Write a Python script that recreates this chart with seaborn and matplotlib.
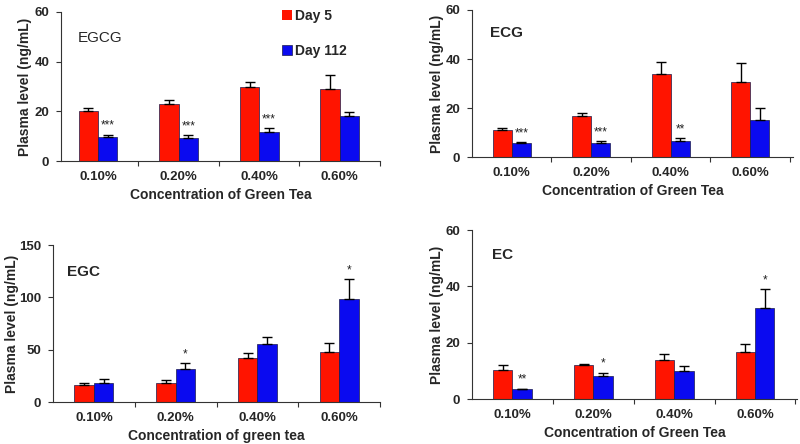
import matplotlib
matplotlib.use("Agg")
import matplotlib.pyplot as plt
from matplotlib.patches import Patch
import seaborn as sns
import pandas as pd

sns.set_theme(style="white")
plt.rcParams['font.family'] = ['Liberation Sans', 'DejaVu Sans']

concentrations = ["0.10%", "0.20%", "0.40%", "0.60%"]
days = ["Day 5", "Day 112"]

egcg_day5 = [20.0, 23.0, 29.8, 29.0]
egcg_day5_err = [1.2, 1.5, 1.9, 5.7]
egcg_day112 = [9.6, 9.1, 11.5, 18.2]
egcg_day112_err = [1.0, 1.3, 1.9, 1.6]
egcg_marks = ["***", "***", "***", ""]

ecg_day5 = [11.0, 16.9, 33.9, 30.5]
ecg_day5_err = [0.7, 0.9, 4.9, 8.0]
ecg_day112 = [5.6, 5.6, 6.7, 15.1]
ecg_day112_err = [0.4, 0.9, 0.9, 5.0]
ecg_marks = ["***", "***", "**", ""]

egc_day5 = [16.0, 18.6, 41.9, 47.3]
egc_day5_err = [2.2, 2.2, 4.5, 8.7]
egc_day112 = [17.9, 32.0, 55.0, 98.2]
egc_day112_err = [4.2, 4.8, 7.4, 19.2]
egc_marks = ["", "*", "", "*"]

ec_day5 = [10.3, 12.0, 13.9, 16.6]
ec_day5_err = [1.6, 0.6, 1.9, 3.0]
ec_day112 = [3.4, 8.2, 9.8, 32.4]
ec_day112_err = [0.3, 1.2, 1.9, 6.5]
ec_marks = ["**", "*", "", "*"]

RED = "#ff1400"
BLUE = "#0a0af0"
W, H = 800, 444


def px_axes(fig, left, right, top, bottom):
    return fig.add_axes([left / W, 1 - bottom / H, (right - left) / W, (bottom - top) / H])


def panel(ax, d5, d5e, d112, d112e, marks, ymax, ystep, xlabel, xlim, ylab_x):
    df = pd.DataFrame({
        "conc": concentrations * 2,
        "day": [days[0]] * 4 + [days[1]] * 4,
        "value": list(d5) + list(d112),
    })
    sns.barplot(data=df, x="conc", y="value", hue="day", order=concentrations,
                hue_order=days, palette={days[0]: RED, days[1]: BLUE},
                width=0.48, errorbar=None, edgecolor="#1a1a4a", linewidth=0.5,
                legend=False, ax=ax, saturation=1)
    for cont, vals, errs in zip(ax.containers, [d5, d112], [d5e, d112e]):
        xs = [b.get_x() + b.get_width() / 2 for b in cont]
        ax.errorbar(xs, vals, yerr=[[0] * len(errs), errs], fmt="none",
                    ecolor="black", elinewidth=1.0, capsize=3.5, capthick=1.0, zorder=3)
    bcont = ax.containers[1]
    for b, v, e, m in zip(bcont, d112, d112e, marks):
        if m:
            ax.annotate(m, (b.get_x() + b.get_width() / 2, v + e), xytext=(0, 2),
                        textcoords="offset points", ha="center", va="bottom",
                        fontsize=8.5, color="#222222")
    ax.set_ylim(0, ymax)
    ax.set_yticks(range(0, ymax + 1, ystep))
    ax.set_xlim(*xlim)
    ax.set_xticks(range(4))
    ax.set_xticklabels(concentrations)
    ax.set_xticks([0.5, 1.5, 2.5, 3.5], minor=True)
    ax.tick_params(axis="x", which="major", length=0, pad=7, labelsize=9.5)
    ax.tick_params(axis="x", which="minor", length=3.5, width=0.8, direction="out",
                   color="#333333", bottom=True)
    ax.tick_params(axis="y", which="major", length=3.5, width=0.8, direction="out",
                   color="#333333", left=True, pad=5, labelsize=9.5)
    for lab in ax.get_xticklabels() + ax.get_yticklabels():
        lab.set_fontweight("bold")
    ax.set_xlabel(xlabel, fontsize=10, fontweight="bold", labelpad=4)
    ax.set_ylabel("Plasma level (ng/mL)", fontsize=10, fontweight="bold")
    ax.yaxis.set_label_coords(ylab_x, 0.5)
    sns.despine(ax=ax)
    for s in ("left", "bottom"):
        ax.spines[s].set_color("#333333")
        ax.spines[s].set_linewidth(0.8)
    ax.set_facecolor("white")


fig = plt.figure(figsize=(8, 4.44), dpi=100)
fig.patch.set_facecolor("white")

ax1 = px_axes(fig, 61, 380, 12, 161)
panel(ax1, egcg_day5, egcg_day5_err, egcg_day112, egcg_day112_err, egcg_marks,
      60, 20, "Concentration of Green Tea", (-0.46, 3.5), -0.091)
ax2 = px_axes(fig, 472, 793, 10, 157)
panel(ax2, ecg_day5, ecg_day5_err, ecg_day112, ecg_day112_err, ecg_marks,
      60, 20, "Concentration of Green Tea", (-0.5, 3.54), -0.087)
ax3 = px_axes(fig, 53, 380, 245, 402)
panel(ax3, egc_day5, egc_day5_err, egc_day112, egc_day112_err, egc_marks,
      150, 50, "Concentration of green tea", (-0.5, 3.5), -0.104)
ax4 = px_axes(fig, 472, 797, 230, 399)
panel(ax4, ec_day5, ec_day5_err, ec_day112, ec_day112_err, ec_marks,
      60, 20, "Concentration of Green Tea", (-0.5, 3.52), -0.086)

fig.text(78 / W, 1 - 38 / H, "EGCG", fontsize=11, va="center", ha="left")
fig.text(490 / W, 1 - 33 / H, "ECG", fontsize=11, fontweight="bold", va="center", ha="left")
fig.text(67 / W, 1 - 272 / H, "EGC", fontsize=11, fontweight="bold", va="center", ha="left")
fig.text(492 / W, 1 - 255 / H, "EC", fontsize=11, fontweight="bold", va="center", ha="left")

handles = [Patch(facecolor=RED, edgecolor="none"), Patch(facecolor=BLUE, edgecolor="#1a1a4a", linewidth=0.5)]
ax1.legend(handles, days, loc="upper left", bbox_to_anchor=(282 / W, 1 - 9 / H),
           bbox_transform=fig.transFigure, frameon=False, handlelength=0.7,
           handleheight=0.7, handletextpad=0.25, labelspacing=1.5, borderaxespad=0,
           borderpad=0, prop={"weight": "bold", "size": 10})

fig.savefig("out.png", dpi=100, facecolor="white")
